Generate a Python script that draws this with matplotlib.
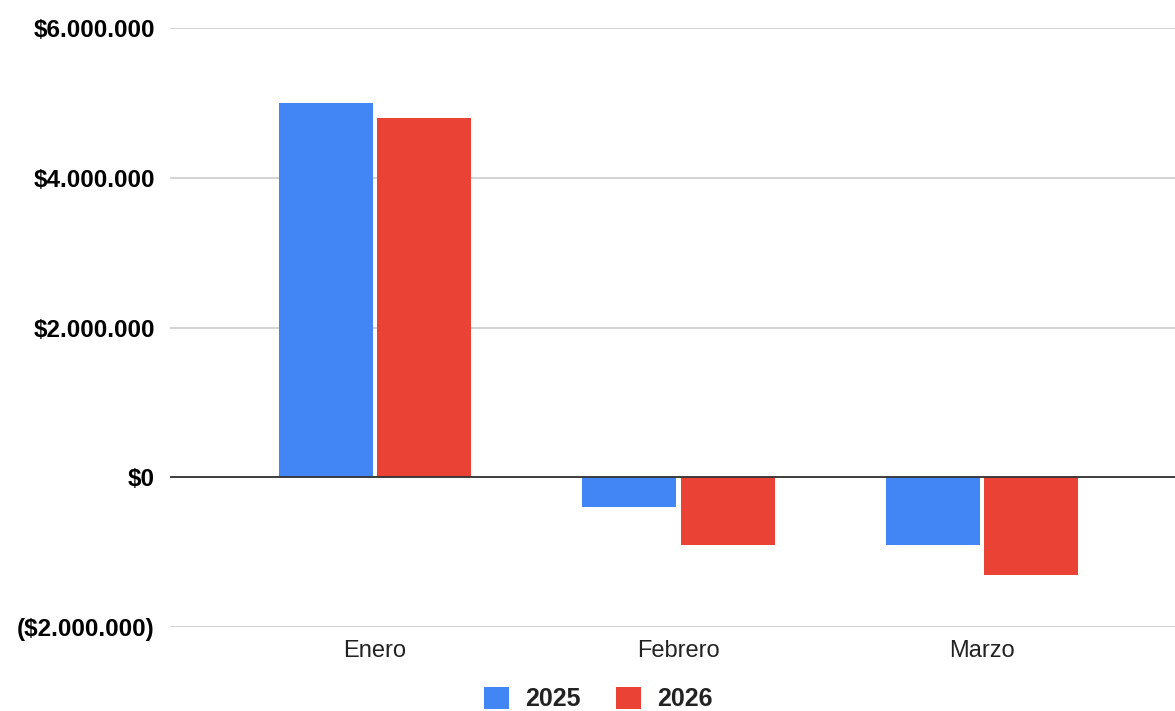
import matplotlib
matplotlib.use('Agg')
import matplotlib.pyplot as plt
from matplotlib.patches import Patch
from matplotlib.ticker import FuncFormatter
import numpy as np

# monthly results per year
months = ["Enero", "Febrero", "Marzo"]
series_names = ["2025", "2026"]
values_2025 = [5000000, -400000, -900000]
values_2026 = [4800000, -900000, -1300000]
colors = ["#4285F4", "#EA4335"]

plt.rcParams['font.family'] = ['Liberation Sans', 'DejaVu Sans']

fig = plt.figure(figsize=(11.75, 7.11), dpi=100)
ax = fig.add_axes([0.1447, 0.1181, 0.8553, 0.8425])

x = np.arange(len(months))
width = 0.31
offset = 0.162
ax.bar(x - offset, values_2025, width, color=colors[0], zorder=3)
ax.bar(x + offset, values_2026, width, color=colors[1], zorder=3)

ax.set_xlim(-0.6755, 2.636)
ax.set_ylim(-2000000, 6000000)
ax.set_yticks([-2000000, 0, 2000000, 4000000, 6000000])


def money(v, pos):
    s = f"${abs(v):,.0f}".replace(",", ".")
    return f"({s})" if v < 0 else s


ax.yaxis.set_major_formatter(FuncFormatter(money))
ax.set_xticks(x)
ax.set_xticklabels(months)

ax.grid(axis='y', color='#c8c8c8', linewidth=1.1, zorder=0)
ax.axhline(0, color='#333333', linewidth=1.3, zorder=4)
for s in ax.spines.values():
    s.set_visible(False)

ax.tick_params(axis='y', length=0, pad=11, labelsize=17.5, labelcolor='#000000')
ax.tick_params(axis='x', length=0, pad=9, labelsize=17, labelcolor='#222222')
for lbl in ax.get_yticklabels():
    lbl.set_fontweight('bold')

handles = [Patch(facecolor=c, edgecolor='none') for c in colors]
leg = fig.legend(handles, series_names, loc='center', bbox_to_anchor=(0.509, 0.017),
                 ncol=2, frameon=False, prop={'size': 18, 'weight': 'bold'},
                 handlelength=1.0, handleheight=1.0, handletextpad=0.65,
                 columnspacing=1.4, borderpad=0)
for t in leg.get_texts():
    t.set_color('#222222')

fig.savefig('out.png', dpi=100)
